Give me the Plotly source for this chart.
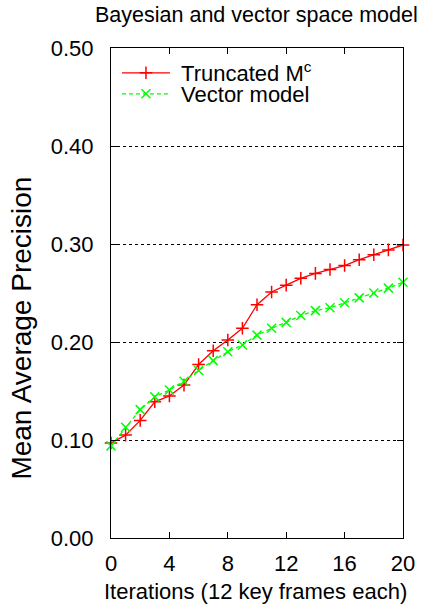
import plotly.graph_objects as go

iterations = list(range(21))
truncated_mc = [0.097, 0.105, 0.120, 0.139, 0.145, 0.156, 0.177, 0.191, 0.202, 0.214, 0.238,
                0.251, 0.258, 0.265, 0.270, 0.274, 0.278, 0.284, 0.289, 0.294, 0.299]
vector_model = [0.094, 0.113, 0.131, 0.144, 0.151, 0.160, 0.171, 0.181, 0.190, 0.197, 0.207,
                0.214, 0.220, 0.227, 0.232, 0.235, 0.240, 0.245, 0.250, 0.255, 0.261]
x_ticks = [0, 4, 8, 12, 16, 20]
y_ticks = [0.0, 0.1, 0.2, 0.3, 0.4, 0.5]

FONT = "Liberation Sans, Arial, sans-serif"
FS = 22
RED = "#ff0000"
GREEN = "#00ff00"

fig = go.Figure()
fig.add_trace(go.Scatter(
    x=iterations, y=truncated_mc, mode="lines+markers", name="\u00a0Truncated M<sup>c</sup>",
    line=dict(color=RED, width=1.3),
    marker=dict(symbol="cross-thin", size=9, line=dict(color=RED, width=1.5)),
    cliponaxis=False, legend="legend",
))
fig.add_trace(go.Scatter(
    x=iterations, y=vector_model, mode="lines+markers", name="\u00a0Vector model",
    line=dict(color=GREEN, width=1.3, dash="4px,3px"),
    marker=dict(symbol="x-thin", size=9, line=dict(color=GREEN, width=1.5)),
    cliponaxis=False, legend="legend2",
))

# body margin is removed in the page (post_script), so figure pixels = page pixels
W, H = 427, 604
L, T = 111, 48
R = W - 405
B = H - 538
pw, ph = W - L - R, H - T - B

def px(xp):
    return (xp - L) / pw

def py(yp):
    return 1 - (yp - T) / ph

leg_common = dict(font=dict(family=FONT, size=FS, color="black"), bgcolor="rgba(0,0,0,0)",
                  borderwidth=0, itemwidth=48, xanchor="left", yanchor="middle", x=px(117))
fig.update_layout(
    width=W, height=H,
    margin=dict(l=L, r=R, t=T, b=B),
    paper_bgcolor="white", plot_bgcolor="white",
    font=dict(family=FONT, size=FS, color="black"),
    showlegend=True,
    legend=dict(y=py(73), **leg_common),
    legend2=dict(y=py(94), **leg_common),
    xaxis=dict(range=[0, 20], tickvals=x_ticks, ticks="inside", ticklen=6, tickcolor="black",
               showline=True, linecolor="black", linewidth=1, mirror="ticks",
               showgrid=False, zeroline=False, ticklabelstandoff=6,
               tickfont=dict(family=FONT, size=FS)),
    yaxis=dict(range=[0, 0.5], tickvals=y_ticks, tickformat=".2f", ticks="inside", ticklen=6,
               tickcolor="black", showline=True, linecolor="black", linewidth=1, mirror="ticks",
               showgrid=True, gridcolor="black", griddash="dot", gridwidth=1, zeroline=False,
               ticklabelstandoff=12, tickfont=dict(family=FONT, size=FS)),
    annotations=[
        dict(text="Bayesian and vector space model", xref="paper", yref="paper",
             x=px(257), y=py(15), xanchor="center", yanchor="middle", showarrow=False,
             font=dict(family=FONT, size=21.5)),
        dict(text="Iterations (12 key frames each)", xref="paper", yref="paper",
             x=px(256), y=py(591), xanchor="center", yanchor="middle", showarrow=False,
             font=dict(family=FONT, size=FS)),
        dict(text="Mean Average Precision", xref="paper", yref="paper", textangle=-90,
             x=px(20), y=py(328), xanchor="center", yanchor="middle", showarrow=False,
             font=dict(family=FONT, size=28)),
    ],
)

fig.write_html("out.html", config={"displayModeBar": False},
               post_script="document.body.style.margin='0px';")
